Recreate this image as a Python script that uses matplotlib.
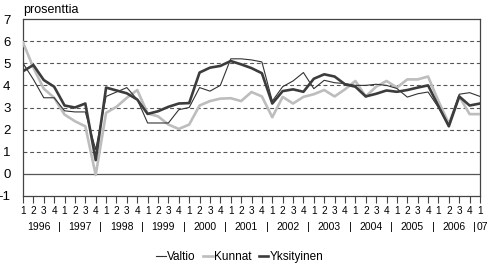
import matplotlib
matplotlib.use("Agg")
import matplotlib.pyplot as plt
from matplotlib.transforms import blended_transform_factory

plt.rcParams['font.family'] = ['Liberation Sans', 'DejaVu Sans']

years = ['1996', '1997', '1998', '1999', '2000', '2001', '2002', '2003', '2004', '2005', '2006', '07']
quarters = ['1', '2', '3', '4'] * 11 + ['1']

valtio = [5.0, 4.27, 3.44, 3.44, 2.85, 2.8, 2.8, 1.1, 3.5, 3.7, 3.9, 3.36,
          2.3, 2.3, 2.3, 2.9, 3.0, 3.9, 3.74, 4.0, 5.2, 5.2, 5.15, 5.06,
          3.29, 3.94, 4.2, 4.58, 3.85, 4.23, 4.12, 4.08, 4.0, 4.0, 4.05, 4.0,
          3.86, 3.47, 3.62, 3.7, 3.0, 2.23, 3.6, 3.67, 3.5]
kunnat = [5.94, 4.8, 3.85, 3.44, 2.68, 2.38, 2.15, -0.05, 2.76, 3.03, 3.44, 3.79,
          2.73, 2.6, 2.23, 2.03, 2.23, 3.09, 3.29, 3.4, 3.42, 3.29, 3.7, 3.5,
          2.56, 3.48, 3.18, 3.48, 3.6, 3.79, 3.5, 3.82, 4.2, 3.5, 3.94, 4.2,
          3.9, 4.27, 4.27, 4.4, 3.29, 2.27, 3.5, 2.7, 2.7]
yksityinen = [4.64, 4.92, 4.24, 3.94, 3.09, 3.0, 3.18, 0.62, 3.9, 3.77, 3.64, 3.36,
              2.71, 2.83, 3.03, 3.18, 3.2, 4.58, 4.8, 4.88, 5.1, 4.95, 4.78, 4.55,
              3.18, 3.74, 3.82, 3.71, 4.3, 4.5, 4.4, 4.05, 3.94, 3.5, 3.62, 3.77,
              3.71, 3.79, 3.9, 4.0, 3.06, 2.15, 3.5, 3.09, 3.18]

W, H = 487, 265
fig = plt.figure(figsize=(W / 100, H / 100), dpi=100)
L, R, T, B = 23, 480, 19, 196
ax = fig.add_axes([L / W, 1 - B / H, (R - L) / W, (B - T) / H])

x = list(range(len(quarters)))
spine_col = '#444444'

for yv in range(1, 7):
    ax.axhline(yv, color='#555555', lw=0.8, ls=(0, (3.5, 2.5)), zorder=1)
ax.axhline(0, color='#555555', lw=0.9, zorder=1)

ax.plot(x, kunnat, color='#bdbdbd', lw=1.9, label='Kunnat', zorder=3)
ax.plot(x, valtio, color='#333333', lw=0.8, label='Valtio', zorder=4)
ax.plot(x, yksityinen, color='#3c3c3c', lw=1.9, label='Yksityinen', zorder=5)

ax.set_xlim(0, len(quarters) - 1)
ax.set_ylim(-1, 7)
ax.set_yticks(range(-1, 8))
ax.set_yticklabels([str(v) for v in range(-1, 8)], fontsize=9.5)
ax.tick_params(axis='y', length=0, pad=9)
ax.set_xticks(x)
ax.set_xticklabels(quarters, fontsize=7.2)
ax.tick_params(axis='x', length=5, width=0.8, color=spine_col, direction='out', pad=2)
for s in ax.spines.values():
    s.set_color(spine_col)
    s.set_linewidth(0.9)

trans = blended_transform_factory(ax.transData, ax.transAxes)
ylab = -0.175
for k, yr in enumerate(years):
    if k < len(years) - 1:
        ax.text(4 * k + 1.5, ylab, yr, transform=trans, ha='center', va='center', fontsize=7.5)
        ax.text(4 * k + 3.5, ylab, '|', transform=trans, ha='center', va='center', fontsize=8)
    else:
        ax.text(4 * k - 0.35, ylab, yr, transform=trans, ha='left', va='center', fontsize=7.5)

fig.text(23 / W, 1 - 10 / H, 'prosenttia', ha='left', va='center', fontsize=9)

handles, labels = ax.get_legend_handles_labels()
order = [1, 0, 2]
fig.legend([handles[i] for i in order], [labels[i] for i in order],
           loc='center', bbox_to_anchor=(240 / W, 1 - 257 / H), ncol=3,
           frameon=False, fontsize=8.5, handlelength=0.8, handletextpad=0.15,
           columnspacing=0.6, borderpad=0)

fig.savefig('out.png', dpi=100)
